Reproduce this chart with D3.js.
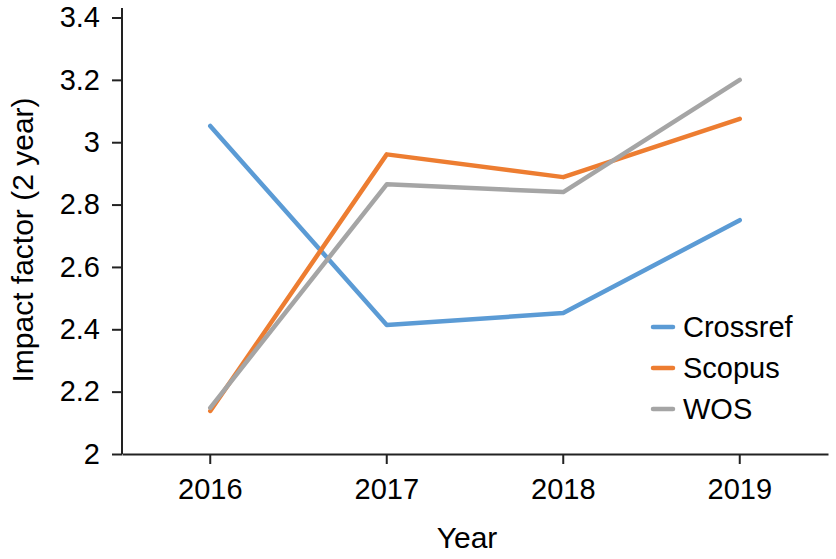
<!DOCTYPE html>
<html>
<head>
<meta charset="utf-8">
<script src="https://cdn.jsdelivr.net/npm/d3@7"></script>
<style>
  body { margin: 0; background: #fff; }
  text { font-family: "Liberation Sans", Arial, Helvetica, sans-serif; fill: #000; }
</style>
</head>
<body>
<div class="chart"></div>
<script>
let years = ['2016', '2017', '2018', '2019'];
let crossref = [3.052, 2.414, 2.452, 2.75];
let scopus = [2.138, 2.961, 2.888, 3.075];
let wos = [2.148, 2.865, 2.84, 3.2];
let yTicks = [2, 2.2, 2.4, 2.6, 2.8, 3, 3.2, 3.4];
let seriesNames = ['Crossref', 'Scopus', 'WOS'];
let colors = ['#5b9bd5', '#ed7d31', '#a5a5a5'];

var width = 836, height = 559;
var fontSize = 29;

let svg = d3.select('.chart')
    .append('svg')
    .attr('width', width)
    .attr('height', height);

let x = d3.scaleBand()
    .domain(years)
    .range([122, 828]);

let y = d3.scaleLinear()
    .domain([2, 3.4])
    .range([454, 17.5]);

// y axis
let yAxis = svg.append('g')
    .attr('transform', 'translate(122,0)')
    .call(d3.axisLeft(y).tickValues(yTicks).tickSize(10).tickPadding(12)
        .tickFormat(d => d3.format('')(+d.toFixed(1))));
yAxis.select('.domain').attr('stroke', '#222').attr('stroke-width', 2)
    .attr('d', 'M0,454V8');
yAxis.selectAll('.tick line').attr('stroke', '#222').attr('stroke-width', 2);
yAxis.selectAll('.tick text').style('font-size', fontSize + 'px').attr('fill', '#000');

// x axis
let xAxis = svg.append('g')
    .attr('transform', 'translate(0,454)')
    .call(d3.axisBottom(x).tickSize(10).tickPadding(14).tickSizeOuter(0));
xAxis.select('.domain').attr('stroke', '#222').attr('stroke-width', 2);
xAxis.selectAll('.tick line').attr('stroke', '#222').attr('stroke-width', 2);
xAxis.selectAll('.tick text').style('font-size', fontSize + 'px').attr('fill', '#000');

// titles
svg.append('text')
    .attr('transform', 'translate(33,240) rotate(-90)')
    .attr('text-anchor', 'middle')
    .style('font-size', '30px')
    .text('Impact factor (2 year)');

svg.append('text')
    .attr('x', 467)
    .attr('y', 548)
    .attr('text-anchor', 'middle')
    .style('font-size', '30px')
    .text('Year');

// lines
let line = d3.line()
    .x((d, i) => x(years[i]) + x.bandwidth() / 2)
    .y(d => y(d));

[crossref, scopus, wos].forEach((vals, i) => {
    svg.append('path')
        .datum(vals)
        .attr('d', line)
        .attr('fill', 'none')
        .attr('stroke', colors[i])
        .attr('stroke-width', 4.5)
        .attr('stroke-linejoin', 'round')
        .attr('stroke-linecap', 'round');
});

// legend
let legend = svg.append('g');
seriesNames.forEach((name, i) => {
    let ly = 327 + i * 41;
    legend.append('line')
        .attr('x1', 653).attr('x2', 673)
        .attr('y1', ly).attr('y2', ly)
        .attr('stroke', colors[i])
        .attr('stroke-width', 4.5)
        .attr('stroke-linecap', 'round');
    legend.append('text')
        .attr('x', 683)
        .attr('y', ly + 10)
        .style('font-size', fontSize + 'px')
        .text(name);
});
</script>
</body>
</html>
